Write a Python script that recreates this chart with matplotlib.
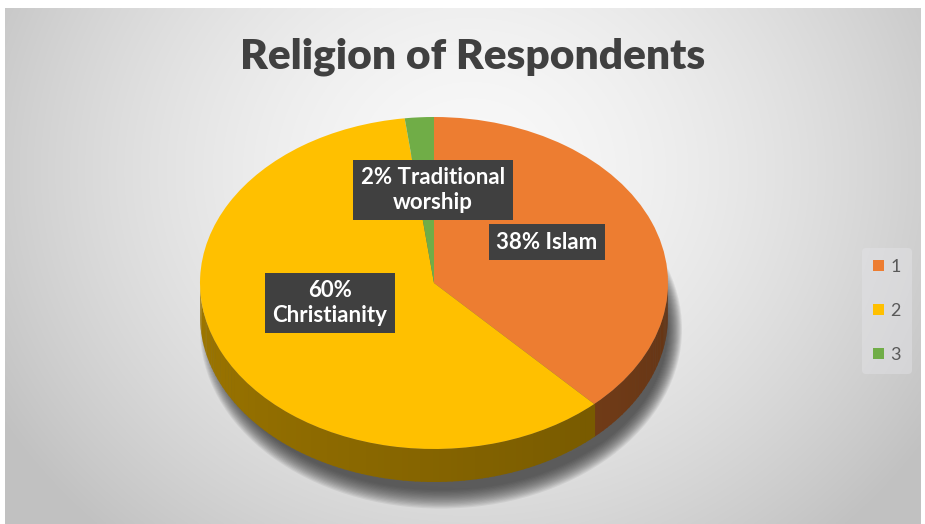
import numpy as np
import matplotlib
matplotlib.use('Agg')
import matplotlib.pyplot as plt
from matplotlib.patches import Polygon, Ellipse
from matplotlib.colors import to_rgb

# ---- data ----
categories = ['Islam', 'Christianity', 'Traditional worship']
legend_labels = ['1', '2', '3']
values = [38, 60, 2]
colors = ['#ED7D31', '#FFC000', '#70AD47']
label_texts = ['38% Islam', '60%\nChristianity', '2% Traditional\nworship']
title = 'Religion of Respondents'

W, H = 925, 524
fig = plt.figure(figsize=(W / 100, H / 100), dpi=100)
fig.patch.set_facecolor('white')
ax = fig.add_axes([0, 0, 1, 1])

cx, cy, rx, ry = 434, 283, 234, 166
depth = 33 / ry


def px2d(px, py):
    return ((px - cx) / rx, (cy - py) / ry)


# ---- background (radial gray gradient) ----
bx0, by0 = px2d(5, 524)
bx1, by1 = px2d(921, 8)
gy, gx = np.mgrid[8:524:2, 5:921:2]
d = np.sqrt(((gx - 470) / 470.0) ** 2 + ((gy - 170) / 420.0) ** 2)
val = np.clip(0.975 - 0.17 * d ** 1.6, 0.76, 1.0)
img = np.dstack([val, val, val])
ax.imshow(img, extent=(bx0, bx1, by0, by1), aspect='auto', zorder=0,
          interpolation='bilinear')

# ---- shadow under the pie ----
for s in np.linspace(0, 1, 16):
    ax.add_patch(Ellipse((0.03, -depth - 0.08), 2 * (0.97 + 0.06 * s),
                         2 * (0.97 + 0.11 * s), facecolor='#303030',
                         edgecolor='none', alpha=0.08, zorder=1))

# ---- top face via pie ----
wedges, _ = ax.pie(values, colors=colors, startangle=90, counterclock=False,
                   radius=1, center=(0, 0), frame=True,
                   wedgeprops=dict(linewidth=0, edgecolor='none'))
for w in wedges:
    w.set_zorder(4)


# ---- side of the 3D pie (front half) ----
def shade(t):
    # t in degrees in [-180, 0]; lighter on the left, darker on the right
    u = (t + 180) / 180.0
    return 0.62 - 0.20 * u


for w, c in zip(wedges, colors):
    t1, t2 = w.theta1, w.theta2
    base = np.array(to_rgb(c))
    for k in (-1, 0, 1):
        a = max(t1, -180 + 360 * k)
        b = min(t2, 0 + 360 * k)
        if a >= b:
            continue
        edges = np.linspace(a, b, max(2, int((b - a) / 1.5) + 2))
        for e0, e1 in zip(edges[:-1], edges[1:]):
            ts = np.radians(np.linspace(e0, e1 + 0.3, 4))
            top = np.column_stack([np.cos(ts), np.sin(ts)])
            bot = np.column_stack([np.cos(ts[::-1]), np.sin(ts[::-1]) - depth])
            tm = (e0 + e1) / 2 - 360 * k
            col = np.clip(base * shade(tm), 0, 1)
            ax.add_patch(Polygon(np.vstack([top, bot]), closed=True,
                                 facecolor=col, edgecolor='none', zorder=3))

ax.set_aspect('auto')
ax.set_xlim((0 - cx) / rx, (W - cx) / rx)
ax.set_ylim((cy - H) / ry, cy / ry)
ax.axis('off')

# ---- title ----
fig.text(473 / W, 1 - 57 / H, title, ha='center', va='center',
         fontsize=30.5, fontweight='heavy', color='#404040',
         family=['Lato', 'DejaVu Sans'])

# ---- data labels ----
label_pos = [(547, 242), (330, 303), (433, 190)]
for txt, (px, py) in zip(label_texts, label_pos):
    x, y = px2d(px, py)
    ax.text(x, y, txt, ha='center', va='center', fontsize=16,
            fontweight='bold', color='white', family=['Lato', 'DejaVu Sans'],
            linespacing=1.2, zorder=6,
            bbox=dict(boxstyle='square,pad=0.35', facecolor='#404040',
                      edgecolor='none'))

# ---- legend ----
leg = ax.legend(wedges, legend_labels, loc='center',
                bbox_to_anchor=(887 / W, 1 - 311 / H),
                bbox_transform=fig.transFigure, frameon=True,
                handlelength=0.6, handleheight=0.6, handletextpad=0.35,
                labelspacing=1.55, borderpad=0.6,
                prop=dict(family=['Lato', 'DejaVu Sans'], size=13))
leg.get_frame().set_facecolor('#e4e4e8')
leg.get_frame().set_edgecolor('none')
leg.get_frame().set_alpha(0.45)
for t in leg.get_texts():
    t.set_color('#595959')

fig.savefig('out.png', dpi=100, facecolor=fig.get_facecolor())
